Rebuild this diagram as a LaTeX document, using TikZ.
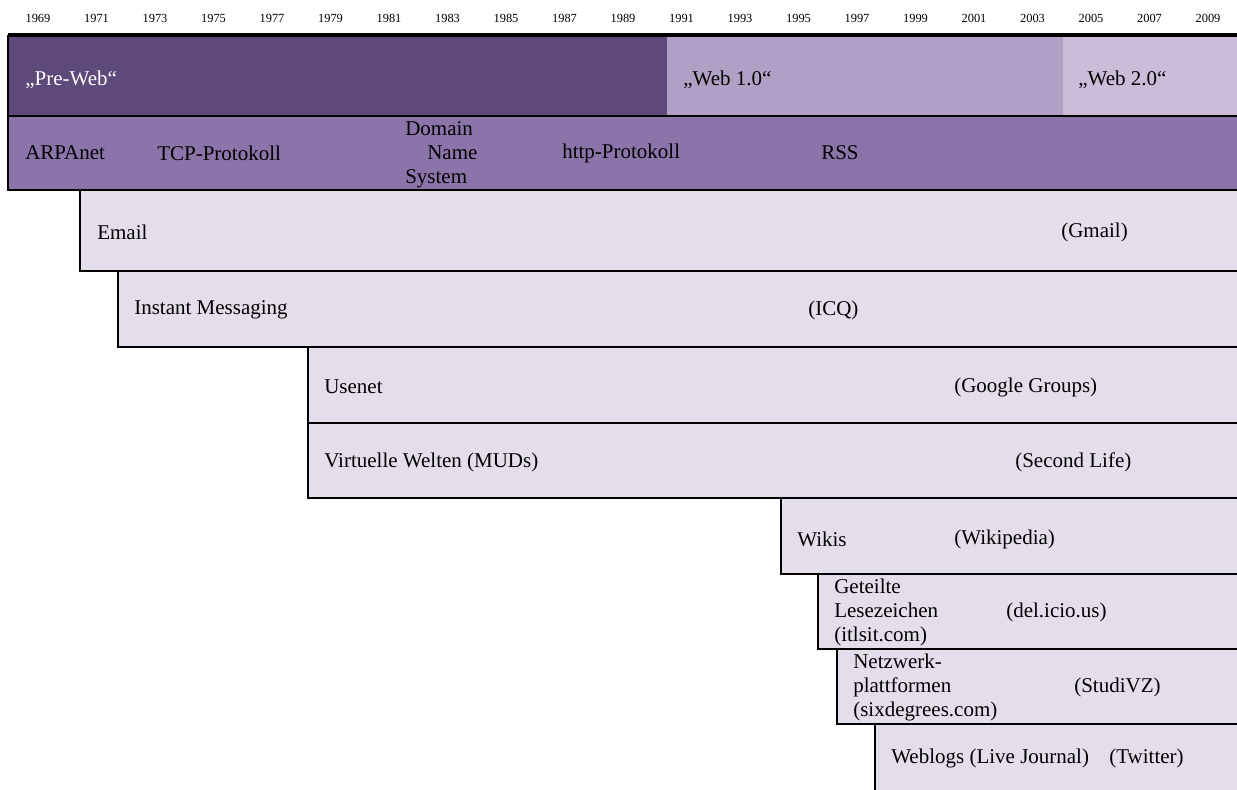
\documentclass[tikz,border=0pt]{standalone}
\usepackage{fontspec}
\setmainfont{Liberation Serif}
\definecolor{preweb}{HTML}{5E4A7A}
\definecolor{webeins}{HTML}{B0A0C6}
\definecolor{webzwei}{HTML}{CBBDD8}
\definecolor{technik}{HTML}{8B74AA}
\definecolor{dienst}{HTML}{E4DEEB}

\begin{document}
\begin{tikzpicture}[x=0.5pt, y=-0.5pt, line width=1.3pt,
	jahr/.style={font=\fontsize{6.2}{7}\selectfont},
	etikett/.style={anchor=west, inner sep=0pt, align=left,
		font=\fontsize{10.5}{12}\selectfont}]
	\useasboundingbox (0,0) rectangle (1237,790);

	\foreach \i [evaluate=\i as \jahr using int(1969+2*\i)] in {0,...,20}
		\node[jahr] (j\i) at ({38+58.5*\i}, 18) {\jahr};

	\fill[preweb] (8,35) rectangle (667,116);
	\fill[webeins] (667,35) rectangle (1063,116);
	\fill[webzwei] (1063,35) rectangle (1237,116);
	\fill[technik] (8,116) rectangle (1237,190);
	\foreach \l/\o/\u in {80/190/271, 118/271/347, 308/347/423, 308/423/498,
		781/498/574, 818/574/649, 837/649/724, 875/724/790}
		\fill[dienst] (\l,\o) rectangle (1237,\u);
	\foreach \l/\o/\u in {80/190/271, 118/271/347, 308/347/423, 308/423/498,
		781/498/574, 818/574/649, 837/649/724}
		\draw (\l,\o) -- (\l,\u) -- (1237,\u);
	\draw (875,724) -- (875,790);
	\draw (8,116) -- (1237,116);
	\draw (1237,190) -- (8,190) -- (8,35);
	\draw[line width=1.8pt] (8,35) -- (1237,35);

	\node[etikett, text=white] (preweb) at (24,80) {„Pre-Web“};
	\node[etikett] (web1) at (682,80) {„Web 1.0“};
	\node[etikett] (web2) at (1077,80) {„Web 2.0“};

	\node[etikett] (arpa) at (24,153) {ARPAnet};
	\node[etikett] (tcp) at (156,153) {TCP-Protokoll};
	\node[etikett] (dns) at (404,155) {Domain\\\hspace{11pt}Name\\System};
	\node[etikett] (http) at (561,153) {http-Protokoll};
	\node[etikett] (rss) at (820,153) {RSS};

	\node[etikett] (email) at (96,232) {Email};
	\node[etikett] (gmail) at (1060,232) {(Gmail)};
	\node[etikett] (im) at (133,310) {Instant Messaging};
	\node[etikett] (icq) at (807,310) {(ICQ)};
	\node[etikett] (usenet) at (323,387) {Usenet};
	\node[etikett] (groups) at (953,387) {(Google Groups)};
	\node[etikett] (muds) at (323,462) {Virtuelle Welten (MUDs)};
	\node[etikett] (sl) at (1014,462) {(Second Life)};
	\node[etikett] (wikis) at (796,539) {Wikis};
	\node[etikett] (wikipedia) at (953,539) {(Wikipedia)};
	\node[etikett] (lesez) at (833,612) {Geteilte\\Lesezeichen\\(itlsit.com)};
	\node[etikett] (delicious) at (1005,612) {(del.icio.us)};
	\node[etikett] (netzw) at (852,687) {Netzwerk-\\plattformen\\(sixdegrees.com)};
	\node[etikett] (studivz) at (1073,687) {(StudiVZ)};
	\node[etikett] (weblogs) at (890,758) {Weblogs (Live Journal)};
	\node[etikett] (twitter) at (1108,758) {(Twitter)};
\end{tikzpicture}
\end{document}
